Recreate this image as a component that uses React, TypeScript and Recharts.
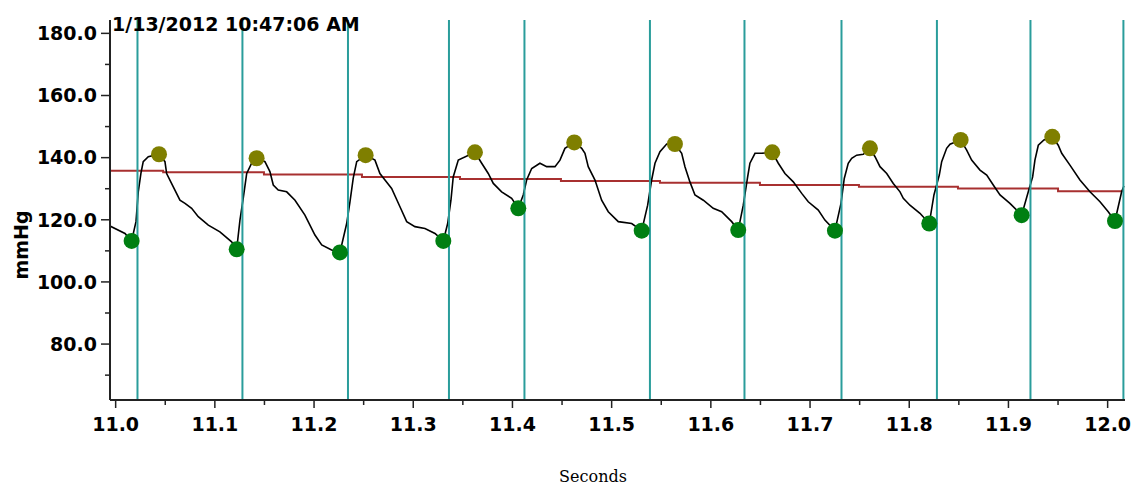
import { ComposedChart, Line, Scatter, XAxis, YAxis, ReferenceLine } from "recharts";

// beat waveform, seconds / mmHg
const waveTime = [
  10.9943, 11.0094, 11.0161, 11.0205, 11.0228, 11.0255, 11.0278, 11.0329, 11.0437, 11.0497,
  11.0514, 11.0581, 11.0648, 11.0699, 11.0766, 11.0833, 11.0934, 11.1051, 11.1169, 11.122,
  11.1253, 11.1286, 11.1321, 11.1371, 11.1421, 11.1505, 11.1555, 11.1589, 11.1639, 11.1724,
  11.1808, 11.1908, 11.2009, 11.2077, 11.2177, 11.2261, 11.2329, 11.2362, 11.2395, 11.243,
  11.252, 11.2614, 11.2664, 11.2715, 11.2782, 11.2866, 11.2934, 11.3017, 11.3118, 11.3219,
  11.3303, 11.3347, 11.338, 11.3403, 11.3454, 11.3622, 11.369, 11.3756, 11.3807, 11.3891,
  11.3992, 11.4059, 11.4109, 11.4143, 11.4194, 11.4277, 11.4345, 11.4429, 11.4479, 11.4529,
  11.4623, 11.4698, 11.4731, 11.4764, 11.4832, 11.4899, 11.4966, 11.5067, 11.5202, 11.5303,
  11.5363, 11.5403, 11.5437, 11.5487, 11.5555, 11.5638, 11.5706, 11.5739, 11.5789, 11.584,
  11.5924, 11.6024, 11.6109, 11.621, 11.6276, 11.6327, 11.6371, 11.6394, 11.6445, 11.6512,
  11.6619, 11.668, 11.6747, 11.6831, 11.6916, 11.6982, 11.7083, 11.715, 11.7251, 11.7312,
  11.7345, 11.7385, 11.742, 11.747, 11.7537, 11.7604, 11.7655, 11.7705, 11.7773, 11.7839,
  11.7907, 11.794, 11.8007, 11.8108, 11.8202, 11.8249, 11.8303, 11.8327, 11.8377, 11.8411,
  11.8518, 11.8579, 11.8629, 11.8713, 11.8781, 11.8847, 11.8915, 11.9015, 11.9133, 11.92,
  11.9244, 11.9267, 11.9301, 11.9358, 11.9442, 11.9502, 11.9537, 11.962, 11.9721, 11.9822,
  11.9923, 12.0006, 12.0074, 12.0141, 12.0164,
];
const wavePressure = [
  118.0, 115.6, 113.2, 119.4, 129.0, 135.0, 138.7, 140.3, 141.1, 138.7,
  134.9, 130.6, 126.3, 125.3, 123.7, 121.0, 118.3, 116.1, 112.9, 110.5,
  119.9, 126.9, 134.9, 138.2, 139.8, 138.7, 135.5, 131.2, 129.6, 129.0,
  126.3, 121.5, 115.1, 111.9, 110.3, 109.5, 118.8, 125.8, 133.4, 138.7,
  140.8, 139.2, 134.9, 132.8, 130.1, 124.2, 119.4, 117.8, 117.2, 115.6,
  113.2, 118.8, 126.3, 133.8, 139.2, 141.7, 138.2, 134.9, 131.7, 129.0,
  126.9, 123.7, 128.0, 132.8, 136.5, 138.2, 137.1, 137.1, 139.2, 143.0,
  144.9, 143.0, 141.4, 137.1, 132.8, 126.3, 122.6, 119.4, 118.8, 116.5,
  124.7, 132.8, 138.2, 141.9, 144.4, 144.4, 141.4, 137.1, 132.2, 128.0,
  126.3, 123.7, 122.6, 119.4, 116.7, 124.7, 133.8, 138.2, 141.4, 141.4,
  141.7, 138.2, 134.9, 132.2, 128.5, 125.8, 123.1, 119.9, 116.5, 125.3,
  133.3, 138.2, 139.8, 140.8, 141.1, 143.0, 140.3, 137.1, 134.9, 131.7,
  129.0, 126.9, 124.7, 122.1, 118.8, 128.0, 134.4, 138.7, 143.0, 144.3,
  145.7, 142.4, 139.2, 136.0, 134.4, 131.2, 128.0, 125.3, 121.5, 129.0,
  133.8, 139.2, 144.0, 145.7, 146.7, 144.0, 141.4, 137.6, 132.8, 129.0,
  125.8, 122.6, 119.6, 129.0, 130.9,
];

// diastolic (green) and systolic (olive) markers
const diaTime = [11.0161, 11.122, 11.2261, 11.3303, 11.4059, 11.5303, 11.6276, 11.7251, 11.8202, 11.9133, 12.0074];
const diaPressure = [113.2, 110.5, 109.5, 113.2, 123.7, 116.5, 116.7, 116.5, 118.8, 121.5, 119.6];
const sysTime = [11.0437, 11.1421, 11.252, 11.3622, 11.4623, 11.5638, 11.6619, 11.7604, 11.8518, 11.9442];
const sysPressure = [141.1, 139.8, 140.8, 141.7, 144.9, 144.4, 141.7, 143.0, 145.7, 146.7];

// running mean (step line)
const meanTime = [10.9943, 11.0479, 11.1495, 11.2483, 11.3471, 11.4489, 11.5487, 11.6495, 11.7493, 11.8491, 11.95, 12.0164];
const meanPressure = [135.8, 135.3, 134.6, 133.8, 133.1, 132.5, 131.9, 131.2, 130.6, 130.1, 129.2, 129.2];

// beat onset markers
const beatMarks = [11.022, 11.1278, 11.2342, 11.336, 11.4121, 11.5386, 11.6339, 11.7317, 11.8279, 11.9222, 12.0159];

const xTicks = [11.0, 11.05, 11.1, 11.15, 11.2, 11.25, 11.3, 11.35, 11.4, 11.45, 11.5, 11.55, 11.6, 11.65, 11.7, 11.75, 11.8, 11.85, 11.9, 11.95, 12.0];
const yTicks = [70, 80, 90, 100, 110, 120, 130, 140, 150, 160, 170, 180];

const wave = waveTime.map((t, i) => ({ t, v: wavePressure[i] }));
const dia = diaTime.map((t, i) => ({ t, v: diaPressure[i] }));
const sys = sysTime.map((t, i) => ({ t, v: sysPressure[i] }));
const mean = meanTime.map((t, i) => ({ t, v: meanPressure[i] }));

const FONT = "'DejaVu Sans', sans-serif";
const AXIS = "#222";

function YTick(props: any) {
  const { x, y, payload } = props;
  const major = Math.round(payload.value) % 20 === 0;
  return (
    <g>
      <line x1={x - (major ? 9 : 5)} x2={x} y1={y} y2={y} stroke={AXIS} strokeWidth={1.5} />
      {major && (
        <text x={x - 13} y={y} dy="0.36em" textAnchor="end" fontFamily={FONT} fontWeight="bold" fontSize={19} fill="#000">
          {payload.value.toFixed(1)}
        </text>
      )}
    </g>
  );
}

function XTick(props: any) {
  const { x, y, payload } = props;
  const major = Math.round(payload.value * 100) % 10 === 0;
  return (
    <g>
      <line x1={x} x2={x} y1={y} y2={y + (major ? 8 : 5)} stroke={AXIS} strokeWidth={1.5} />
      {major && (
        <text x={x} y={y + 31} textAnchor="middle" fontFamily={FONT} fontWeight="bold" fontSize={19} fill="#000">
          {payload.value.toFixed(1)}
        </text>
      )}
    </g>
  );
}

const dot = (color: string) => (p: any) => <circle cx={p.cx} cy={p.cy} r={8} fill={color} />;

export default function App() {
  return (
    <div style={{ position: "absolute", left: 0, top: 0, width: 1135, height: 488, background: "#fff" }}>
      <ComposedChart width={1135} height={488} margin={{ top: 20, right: 10, left: 0, bottom: 0 }}>
        <XAxis
          dataKey="t"
          type="number"
          domain={[10.9943, 12.0175]}
          allowDataOverflow
          ticks={xTicks}
          interval={0}
          tickSize={0}
          tickMargin={0}
          tickLine={false}
          tick={<XTick />}
          height={88}
          axisLine={{ stroke: AXIS, strokeWidth: 2 }}
        />
        <YAxis
          type="number"
          domain={[62, 184.3]}
          allowDataOverflow
          ticks={yTicks}
          interval={0}
          tickSize={0}
          tickMargin={0}
          tickLine={false}
          tick={<YTick />}
          width={110}
          axisLine={{ stroke: AXIS, strokeWidth: 2 }}
        />
        <Line data={mean} dataKey="v" type="stepAfter" stroke="#a83030" strokeWidth={2} dot={false} activeDot={false} isAnimationActive={false} />
        <Line data={wave} dataKey="v" type="linear" stroke="#000" strokeWidth={1.6} dot={false} activeDot={false} isAnimationActive={false} />
        {beatMarks.map((b) => (
          <ReferenceLine key={b} x={b} stroke="#2a9d9b" strokeWidth={2} />
        ))}
        <Scatter data={sys} dataKey="v" shape={dot("#7f7f00")} isAnimationActive={false} />
        <Scatter data={dia} dataKey="v" shape={dot("#007f12")} isAnimationActive={false} />
      </ComposedChart>
      <svg width={1135} height={488} style={{ position: "absolute", left: 0, top: 0, pointerEvents: "none" }}>
        <text x={112} y={31} fontFamily={FONT} fontWeight="bold" fontSize={19} fill="#000">
          1/13/2012 10:47:06 AM
        </text>
        <text x={21} y={245} transform="rotate(-90 21 245)" textAnchor="middle" dy="0.36em" fontFamily={FONT} fontWeight="bold" fontSize={19} fill="#000">
          mmHg
        </text>
        <text x={593} y={482} textAnchor="middle" fontFamily="'DejaVu Serif', serif" fontSize={16} fill="#000">
          Seconds
        </text>
      </svg>
    </div>
  );
}
